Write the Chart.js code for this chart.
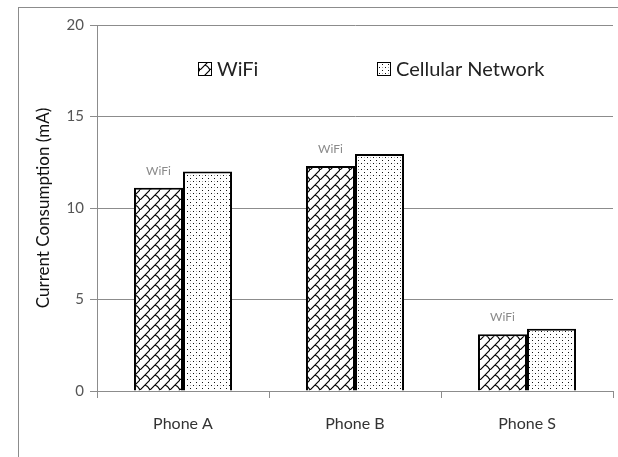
<!DOCTYPE html>
<html>
<head>
<meta charset="utf-8">
<script src="https://cdn.jsdelivr.net/npm/chart.js@4.4.1/dist/chart.umd.min.js"></script>
<style>
  html, body { margin: 0; padding: 0; background: #fff; }
  #wrap { position: relative; width: 618px; height: 457px; overflow: hidden; }
  #frame { position: absolute; left: 18px; top: 7px; width: 700px; height: 600px;
           border-left: 1px solid #8c8c8c; border-top: 1px solid #8c8c8c; pointer-events: none; }
  canvas { position: absolute; left: 0; top: 0; }
</style>
</head>
<body>
<div id="wrap">
  <canvas id="c" width="618" height="457"></canvas>
  <div id="frame"></div>
</div>
<script>
// Categories, series and axis settings
const phones = ['Phone A', 'Phone B', 'Phone S'];
const wifiCurrent = [11.1, 12.3, 3.1];
const cellularCurrent = [12.0, 12.95, 3.4];
const seriesNames = ['WiFi', 'Cellular Network'];
const yTicks = [0, 5, 10, 15, 20];
const yTitle = 'Current Consumption (mA)';
const barNote = 'WiFi';

// Diagonal-brick fill
function brickPattern(ctx) {
  const c = document.createElement('canvas');
  c.width = 10; c.height = 10;
  const g = c.getContext('2d');
  g.fillStyle = '#fff'; g.fillRect(0, 0, 10, 10);
  g.strokeStyle = '#000'; g.lineWidth = 1.2; g.lineCap = 'round';
  g.beginPath();
  g.moveTo(-2, 12); g.lineTo(12, -2);
  g.moveTo(5, 5); g.quadraticCurveTo(8, 6, 10, 10);
  g.stroke();
  return ctx.createPattern(c, 'repeat');
}
// Sparse dotted fill
function dotPattern(ctx) {
  const c = document.createElement('canvas');
  c.width = 6; c.height = 6;
  const g = c.getContext('2d');
  g.fillStyle = '#fff'; g.fillRect(0, 0, 6, 6);
  g.fillStyle = '#111';
  g.fillRect(1, 1, 1, 1);
  g.fillRect(4, 4, 1, 1);
  g.fillStyle = '#aaa';
  g.fillRect(4, 1, 1, 1);
  return ctx.createPattern(c, 'repeat');
}

const canvas = document.getElementById('c');
const ctx = canvas.getContext('2d');
const fills = [brickPattern(ctx), dotPattern(ctx)];

// Legend drawn inside the plot area
const innerLegend = {
  id: 'innerLegend',
  afterDraw(chart) {
    const c = chart.ctx;
    const spots = [198, 377];
    const yMid = 69;
    c.save();
    chart.data.datasets.forEach((ds, i) => {
      const x = spots[i];
      c.fillStyle = ds.backgroundColor;
      c.fillRect(x, yMid - 7, 13, 13);
      c.strokeStyle = '#000'; c.lineWidth = 1;
      c.strokeRect(x + 0.5, yMid - 6.5, 13, 13);
      c.fillStyle = '#222';
      c.font = '20px Lato, sans-serif';
      c.textBaseline = 'middle';
      c.textAlign = 'left';
      c.fillText(ds.label, x + 19, yMid + 1);
    });
    c.restore();
  }
};

// Small note above each WiFi bar
const barNotes = {
  id: 'barNotes',
  afterDatasetsDraw(chart) {
    const c = chart.ctx;
    const meta = chart.getDatasetMeta(0);
    c.save();
    c.fillStyle = '#8a8a8a';
    c.font = '12px Lato, sans-serif';
    c.textAlign = 'center';
    c.textBaseline = 'middle';
    meta.data.forEach(bar => c.fillText(barNote, bar.x, bar.y - 17));
    c.restore();
  }
};

new Chart(ctx, {
  type: 'bar',
  data: {
    labels: phones,
    datasets: [
      { label: seriesNames[0], data: wifiCurrent, backgroundColor: fills[0],
        borderColor: '#000', borderWidth: 2, borderSkipped: 'bottom' },
      { label: seriesNames[1], data: cellularCurrent, backgroundColor: fills[1],
        borderColor: '#000', borderWidth: 2, borderSkipped: 'bottom' }
    ]
  },
  options: {
    responsive: false,
    animation: false,
    devicePixelRatio: 1,
    layout: { padding: { top: 25, right: 5, left: 0, bottom: 0 } },
    datasets: { bar: { categoryPercentage: 0.57, barPercentage: 1.0 } },
    plugins: {
      legend: { display: false },
      tooltip: { enabled: false }
    },
    scales: {
      x: {
        offset: true,
        grid: { display: true, drawOnChartArea: false, drawTicks: true, tickLength: 7,
                color: '#8c8c8c', offset: true },
        border: { display: true, color: '#8c8c8c', width: 1 },
        ticks: { color: '#333', font: { family: 'Lato, sans-serif', size: 16 }, padding: 16 },
        afterFit(s) { s.height = 66; }
      },
      y: {
        min: 0, max: 20,
        afterBuildTicks(s) { s.ticks = yTicks.map(v => ({ value: v })); },
        grid: { color: '#8c8c8c', tickLength: 7, drawTicks: true },
        border: { display: true, color: '#8c8c8c', width: 1 },
        ticks: { color: '#555', font: { family: 'Lato, sans-serif', size: 15 }, padding: 6 },
        title: { display: true, text: yTitle, color: '#111',
                 font: { family: 'Lato, sans-serif', size: 17 }, padding: { top: 33, bottom: 0 } },
        afterFit(s) { s.width = 97; }
      }
    }
  },
  plugins: [barNotes, innerLegend]
});
</script>
</body>
</html>
